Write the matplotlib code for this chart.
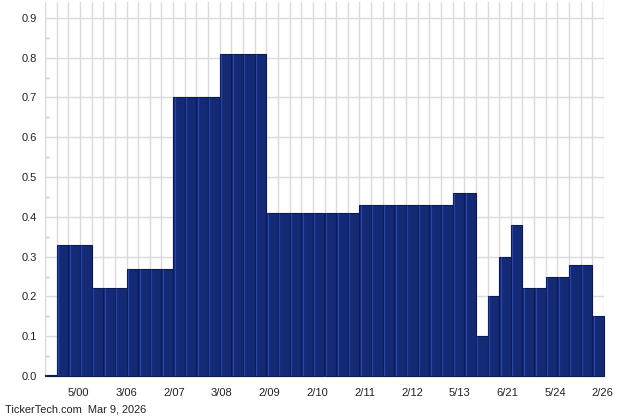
import matplotlib
matplotlib.use("Agg")
import matplotlib.pyplot as plt
import numpy as np

# Dividend values (one bar per payment)
values = [0.002,
          0.33, 0.33, 0.33,
          0.22, 0.22, 0.22,
          0.27, 0.27, 0.27, 0.27,
          0.70, 0.70, 0.70, 0.70,
          0.81, 0.81, 0.81, 0.81,
          0.41, 0.41, 0.41, 0.41, 0.41, 0.41, 0.41, 0.41,
          0.43, 0.43, 0.43, 0.43, 0.43, 0.43, 0.43, 0.43,
          0.46, 0.46,
          0.10, 0.20, 0.30, 0.38,
          0.22, 0.22, 0.25, 0.25, 0.28, 0.28,
          0.15]
tick_labels = ["5/00", "3/06", "2/07", "3/08", "2/09", "2/10",
               "2/11", "2/12", "5/13", "6/21", "5/24", "2/26"]
y_ticks = [0.0, 0.1, 0.2, 0.3, 0.4, 0.5, 0.6, 0.7, 0.8, 0.9]
footer = "TickerTech.com  Mar 9, 2026"

plt.rcParams['font.family'] = ['Liberation Sans', 'DejaVu Sans']

fig = plt.figure(figsize=(6.4, 4.2), dpi=100)
ax = fig.add_axes([45/640, 44/420, 559/640, 374/420])

n = len(values)
x = np.arange(n)
ax.bar(x, values, width=1.0, align='edge', color='#142a74',
       edgecolor='#0c1a4e', linewidth=0.8, zorder=3, clip_on=False)
# lighter bevel on the left edge of each bar
ax.vlines(x + 0.12, 0, values, colors='#2545b5', linewidth=0.9, zorder=4)

ax.set_xlim(0, n)
ax.set_ylim(0, 0.94)

# grid
ax.set_xticks(np.arange(0, n + 1), minor=True)
ax.grid(True, which='minor', axis='x', color='#dadada', linewidth=1.0, zorder=0)
ax.set_yticks(y_ticks)
ax.set_yticklabels([f"{v:.1f}" for v in y_ticks])
ax.grid(True, which='major', axis='y', color='#dadada', linewidth=1.0, zorder=0)

ax.set_xticks(np.linspace(2.9, 47.9, len(tick_labels)))
ax.set_xticklabels(tick_labels)

ax.set_yticks(np.arange(0.05, 0.95, 0.1), minor=True)
ax.tick_params(axis='y', which='minor', direction='in', length=3,
               color='#c8c8c8', width=1)
ax.tick_params(axis='y', which='major', length=0, pad=6, labelsize=8,
               labelcolor='#222222')
ax.tick_params(axis='x', which='both', length=0, pad=9, labelsize=8,
               labelcolor='#222222')

for s in ['top', 'right']:
    ax.spines[s].set_visible(False)
ax.spines['left'].set_color('#dadada')
ax.spines['bottom'].set_color('#dadada')

fig.text(5/640, 1 - 413/420, footer, fontsize=7.9, color='#222222',
         ha='left', va='baseline')

fig.savefig("out.png", dpi=100)
